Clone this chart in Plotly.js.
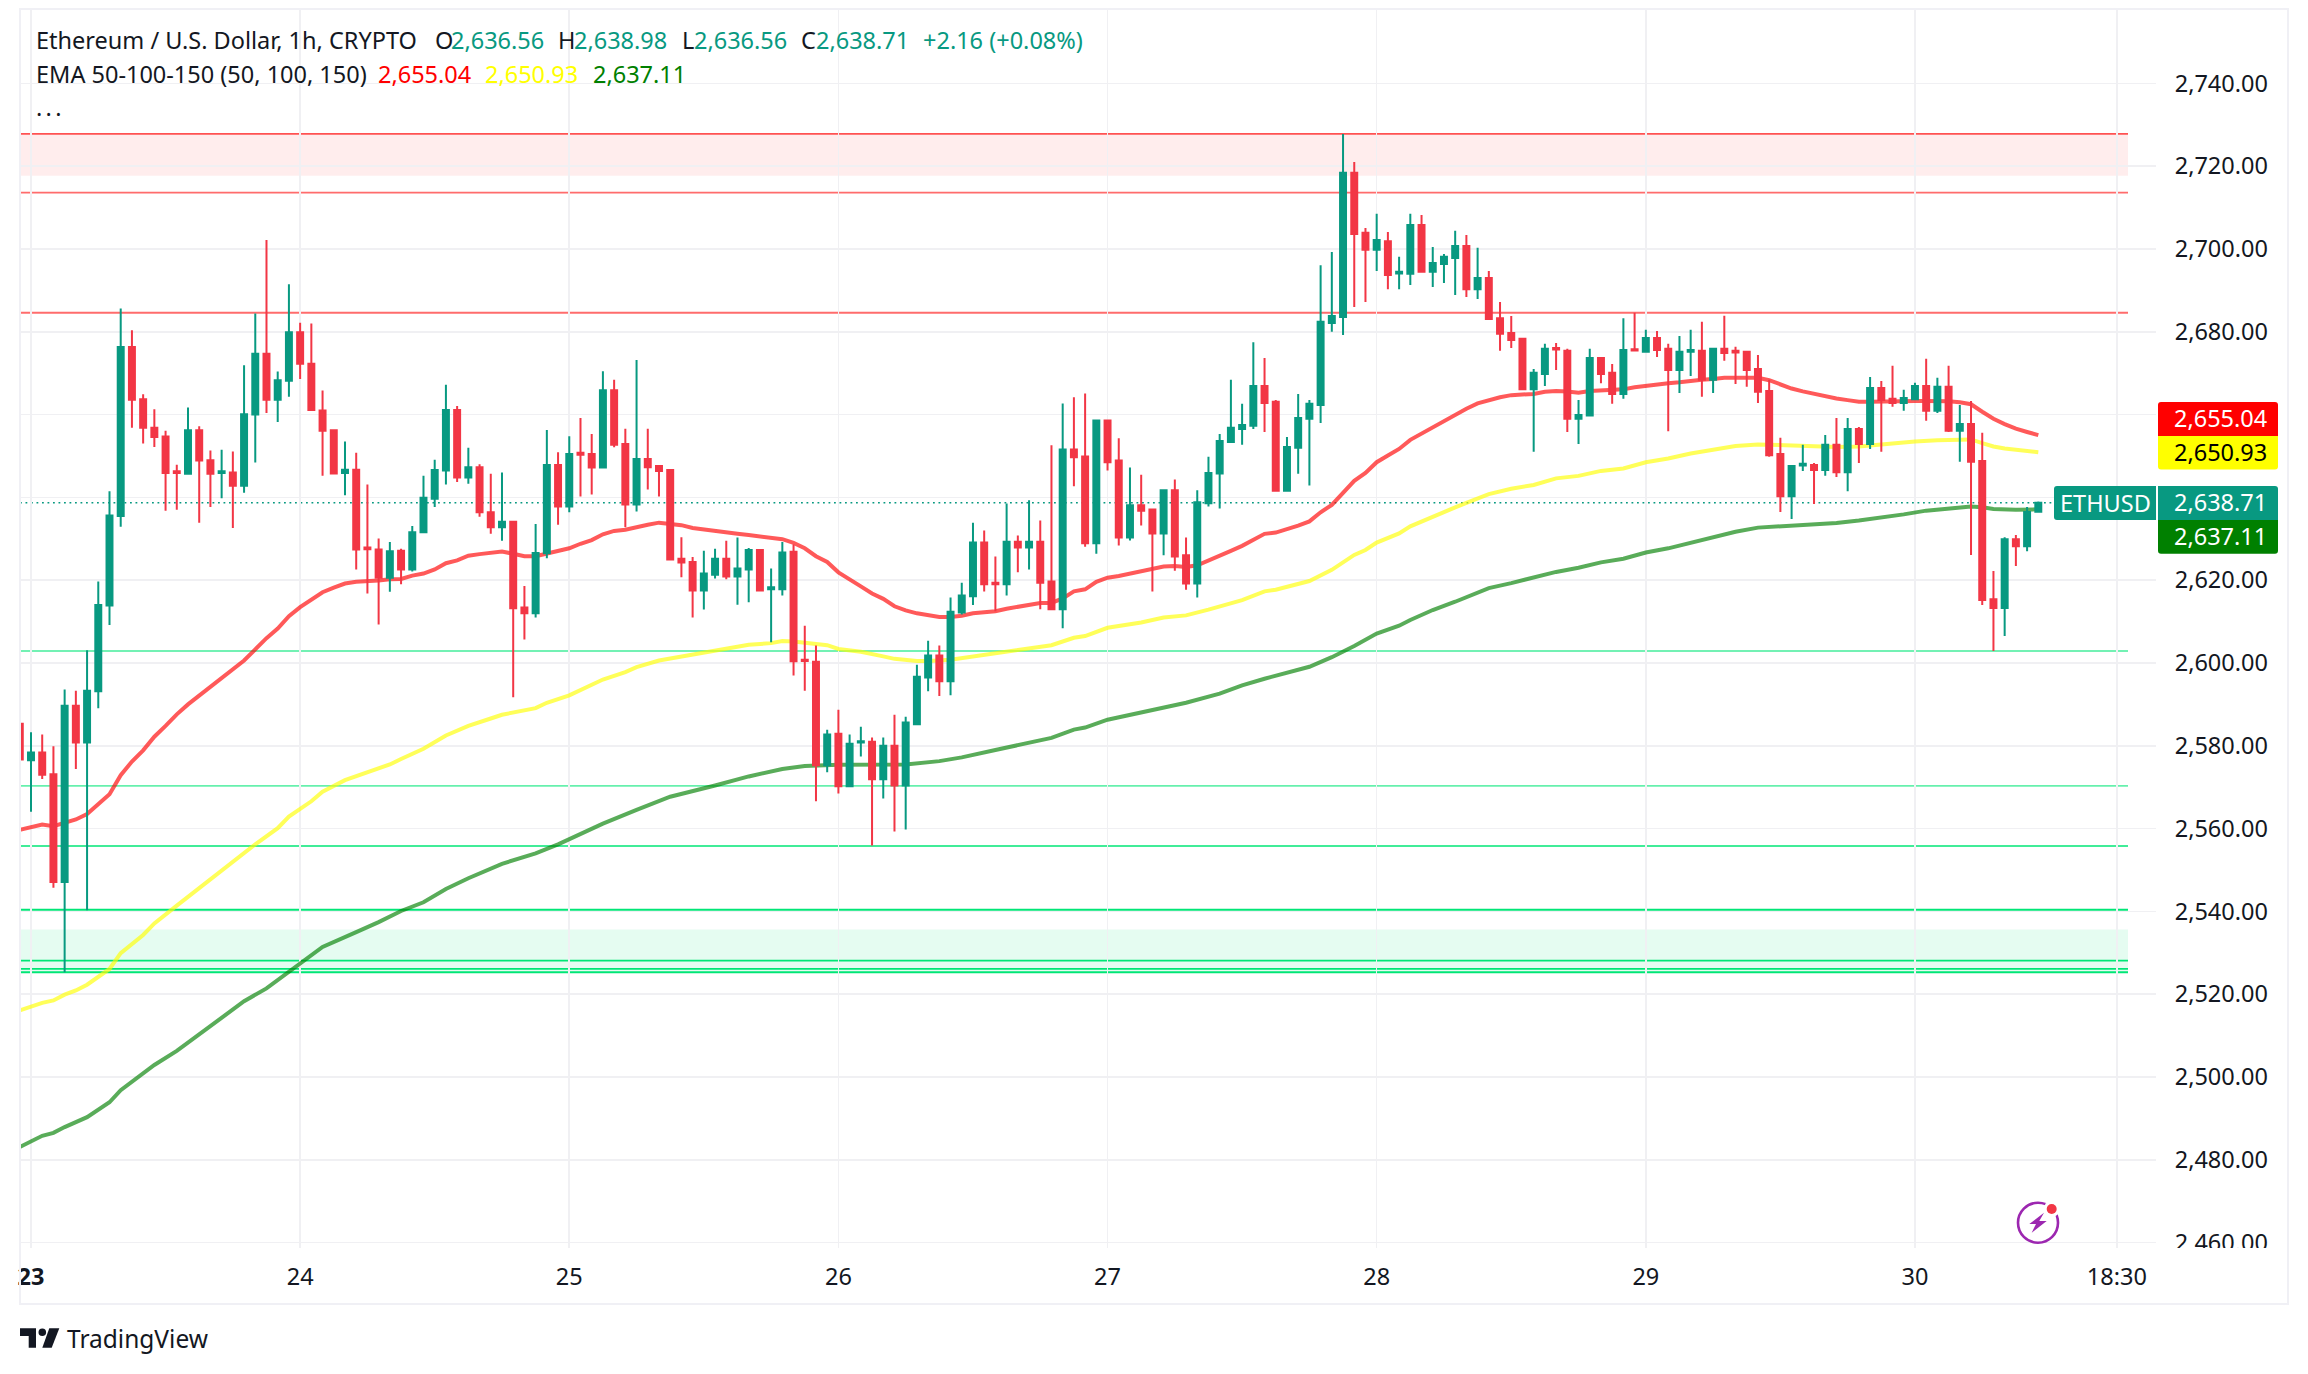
<!DOCTYPE html>
<html>
<head>
<meta charset="utf-8">
<script src="https://cdn.plot.ly/plotly-3.0.1.min.js"></script>
<style>html,body{margin:0;padding:0;background:#fff}#chart{width:2308px;height:1374px}</style>
</head>
<body>
<div id="chart"></div>
<script>
// ---------- candles: hourly bars, first value is the half-hidden bar left of the 23rd ----------
const opens = [2585.3,2576.5,2578.4,2573.1,2547.1,2589.7,2580.8,2593.2,2613.9,2635.5,2676.3,2663.7,2656.8,2654.7,2646.3,2645.7,2656.2,2649,2645.9,2646,2642.8,2660,2674.7,2663.6,2668.2,2679.9,2672.3,2661,2656.2,2645.9,2646.7,2627.9,2627.4,2620.6,2627.1,2622.6,2631.6,2639.7,2646.5,2661.1,2644.8,2647.3,2636.4,2632.8,2634.1,2613.4,2612,2626.5,2647.8,2637.8,2650.8,2650.5,2647.2,2665.9,2652.9,2638.3,2649.3,2647.6,2646.6,2625.2,2624.4,2617.5,2621.3,2625.2,2620.9,2622.6,2627.3,2617.8,2617.8,2626.9,2600.8,2600.3,2575.3,2582.9,2570.2,2580.8,2581,2571.9,2580,2570.4,2585.2,2596.5,2601.8,2595.6,2612.2,2616.1,2629.1,2619.4,2619,2629.3,2627.9,2629.3,2619.7,2613,2651.6,2649.9,2628.9,2658.6,2648.9,2630.3,2638.1,2637.1,2631.3,2641.7,2626,2619.2,2638.6,2645.8,2653.4,2656.5,2657.3,2666.9,2663.1,2641.6,2652,2659,2662.3,2682.1,2683.6,2718.4,2703.9,2699.8,2701.9,2694.1,2694,2705.8,2694.5,2696.4,2697.8,2700.7,2690.3,2693,2683.3,2679.7,2678.3,2666.1,2669.8,2676.1,2675.4,2659,2659.8,2673.7,2670.1,2665,2675.8,2675.2,2678.5,2675.9,2670.8,2675.2,2675.4,2668.4,2675.9,2675.4,2675.2,2671,2665.7,2650.5,2640.3,2647.7,2647.8,2646.6,2652.7,2646.1,2656.5,2652.9,2666.4,2663.8,2662.8,2663.7,2666.9,2660.9,2666.7,2656.1,2657.7,2648.8,2615.4,2613.3,2629.9,2628.2,2636.56];
const highs = [2585.9,2583.3,2582.7,2579.9,2593.6,2593.3,2603.1,2619.7,2641.5,2685.6,2680.4,2664.9,2661.3,2656.1,2647.9,2661.7,2657.2,2651.3,2651.5,2651.1,2671.9,2684.4,2702.2,2670.4,2691.5,2682.2,2682,2665.8,2656.2,2653.5,2650.8,2643.1,2630.1,2629.2,2627.6,2633.1,2645.2,2649.1,2667.2,2662.1,2652,2648,2645.7,2646,2634.1,2618.6,2633.6,2656.3,2650.9,2654.8,2659.2,2655.3,2670.5,2668.4,2656.6,2673.2,2656.6,2647.6,2646.6,2630.4,2625.6,2627.1,2627.6,2629.5,2630.3,2627.8,2627.3,2622.8,2629.2,2628.6,2609,2604.2,2583.9,2588.7,2582.7,2584.6,2582,2582,2587.5,2587,2599.6,2605.4,2604.2,2615.8,2619.4,2633.9,2632,2625.7,2638.5,2630.8,2639.3,2634.4,2652.6,2662.7,2664.2,2665.1,2658.6,2658.8,2654.3,2647.2,2645.5,2637.3,2641.9,2644.3,2630.3,2641.7,2649.8,2655.3,2668.4,2662.6,2677.5,2673.7,2663.5,2654.6,2665,2663.5,2696.1,2699.3,2727.8,2721,2705.1,2708.5,2704.1,2698.1,2708.5,2708.2,2700.5,2698.8,2704.4,2703.4,2700.3,2694.7,2687.2,2683.8,2678.5,2671,2677.1,2677.3,2675.9,2663.5,2675.9,2673.9,2672.2,2683.3,2684.6,2680.5,2680.2,2677.1,2679,2680.5,2682.4,2675.9,2683.9,2676.4,2675.2,2674.4,2668.4,2654.4,2647.6,2652.7,2648.3,2655.1,2659.2,2659.2,2657,2669.1,2668.1,2671.8,2666,2667.7,2673.5,2668.9,2671.8,2662.3,2663.3,2655.6,2622.2,2630.4,2630.9,2637.7,2638.98];
const lows = [2573.4,2564.1,2572,2545.7,2525.3,2574.4,2540.3,2589.1,2609.2,2632.9,2656.8,2653,2652.2,2636.8,2637,2645.7,2633.9,2637.7,2639.8,2632.6,2641.1,2648.4,2660.4,2658.2,2664.3,2668.6,2661.1,2645.2,2645.7,2640.5,2622.6,2616.8,2609.3,2617.2,2619,2622.1,2631.6,2637.7,2643.1,2643.7,2643.3,2635.3,2631.2,2629.5,2591.7,2605.7,2611,2625.3,2633.4,2636.4,2640.2,2640.7,2647.2,2652.1,2632.8,2636.6,2641.9,2640.2,2625,2620.7,2611,2612.9,2620.4,2620.2,2614.1,2614.7,2617.5,2605,2616.3,2597,2593.3,2566.6,2573.6,2568.5,2570.2,2577.4,2555.9,2567.3,2559.3,2559.8,2585.2,2593.2,2592,2592.2,2611.7,2614,2617.3,2612.5,2616.3,2621.9,2622.6,2613,2613,2608.4,2642.7,2628.1,2626.4,2646.5,2628.4,2629.6,2633.2,2617.3,2626,2622.3,2617.7,2615.8,2637.8,2637.3,2653.2,2652.7,2656.5,2655.8,2641.6,2641.6,2645.7,2642.9,2658,2680,2679.2,2686,2687.2,2694.7,2690.3,2690.3,2691.3,2694.5,2690.8,2691.8,2688.9,2688.4,2687.9,2683.1,2675.4,2676.1,2666.1,2651,2666.9,2670.8,2655.8,2652.9,2659.8,2667.6,2662.6,2663.8,2675.5,2675.2,2673.9,2656,2665.2,2669.3,2664.3,2665.2,2673,2667.4,2666.7,2662.8,2649.8,2636.5,2634.8,2646.4,2638.4,2645.2,2644.9,2641.5,2648.3,2651.7,2651,2661.9,2660.9,2663.5,2658.5,2660.4,2655.8,2648.6,2626.1,2614,2602.9,2606.5,2623.4,2627,2636.56];
const closes = [2576.7,2578.4,2573,2547.1,2589.7,2580.8,2593.3,2614,2635.6,2676.3,2663.6,2656.8,2654.6,2645.9,2645.9,2656.2,2648.9,2645.7,2646.3,2642.8,2660.1,2674.7,2663.6,2668.3,2679.9,2672.3,2661.1,2656.1,2645.8,2646.7,2627.4,2627.5,2620.6,2627,2622.6,2631.6,2639.9,2646.6,2661.1,2644.8,2647.3,2636.4,2632.8,2634.1,2613.2,2612,2626.6,2647.8,2637.8,2650.5,2650.3,2647.2,2665.9,2652.7,2638.3,2649.3,2647.3,2646.4,2625,2624.3,2617.5,2621.6,2625.2,2620.9,2622.8,2627.3,2617.5,2618.3,2626.7,2600.4,2600.5,2575.3,2582.7,2570.2,2580.5,2581.1,2571.9,2580,2570.4,2585.6,2596.7,2601.8,2595.6,2612.4,2616.3,2629.1,2619,2619,2629.3,2627.9,2629.3,2619.4,2613,2651.6,2649.7,2628.9,2658.6,2648.5,2630.3,2638.1,2636.8,2631.3,2641.7,2625.7,2619.2,2638.8,2645.9,2653.6,2656.8,2657.5,2666.9,2662.8,2641.6,2652.2,2659.2,2662.6,2682.4,2683.8,2718.4,2703.6,2699.8,2702.2,2693.7,2694.5,2705.8,2694.5,2696.6,2698.1,2700.7,2690.3,2693,2683.1,2679.5,2678,2666.1,2670.1,2675.9,2675.7,2659,2659.9,2673.7,2669.8,2665,2675.6,2675.5,2678.5,2675.6,2670.8,2675.2,2675.6,2668.4,2675.9,2674.9,2675,2670.8,2665.5,2650.2,2640.3,2647.6,2648.1,2646.6,2652.7,2646.1,2656.5,2652.9,2666.4,2663.5,2662.8,2664,2666.9,2660.9,2666.7,2656.1,2657.7,2648.6,2615.2,2613.3,2629.9,2628.2,2636.5,2638.71];
const barIndex = opens.map((_, k) => k - 1);

// ---------- EMA 50 / 100 / 150 ----------
const ema50X = [-1,1,2,3,4,5,6,7,8,9,10,11,12,13,14,15,16,17,18,19,20,21,22,23,24,25,26,27,28,29,30,31,32,33,34,35,36,37,38,39,40,41,42,43,44,45,46,47,48,49,50,51,52,53,54,55,56,57,58,59,60,61,62,63,64,65,66,67,68,69,70,71,72,73,74,75,76,77,78,79,80,81,82,83,84,85,86,87,88,89,90,91,92,93,94,95,96,97,98,99,100,101,102,103,104,105,106,107,108,109,110,111,112,113,114,115,116,117,118,119,120,121,122,123,124,125,126,127,128,129,130,131,132,133,134,135,136,137,138,139,140,141,142,143,144,145,146,147,148,149,150,151,152,153,154,155,156,157,158,159,160,161,162,163,164,165,166,167,168,169,170,171,172,173,174,175,176,177,178,179];
const ema50Y = [2559.7,2561,2560.6,2561.4,2562.2,2563.5,2565.8,2568.3,2572.9,2576.2,2578.9,2582.2,2584.8,2587.6,2590,2592.1,2594.5,2596.4,2598.4,2600.6,2603.3,2606,2608.3,2611.3,2613.5,2615.2,2617.1,2618.2,2619.2,2619.6,2619.7,2619.9,2620.2,2620.3,2621.1,2621.6,2622.6,2624.1,2624.8,2625.9,2626.3,2626.6,2626.9,2626.4,2625.8,2625.8,2626.5,2627,2627.7,2628.8,2629.7,2631.1,2631.9,2632.2,2632.9,2633.4,2633.9,2633.5,2633.3,2632.6,2632.2,2632,2631.5,2631.2,2630.9,2630.5,2630.1,2629.9,2629,2627.7,2625.8,2624.4,2621.9,2620.3,2618.5,2616.8,2615.5,2613.7,2612.7,2612,2611.5,2611.1,2611.1,2611.4,2612,2612.3,2612.5,2613.1,2613.6,2614.2,2614.5,2614.5,2615.6,2617.3,2617.8,2619.6,2620.6,2621,2621.6,2622.2,2622.6,2623.3,2623.4,2623.2,2623.6,2624.7,2625.9,2627.1,2628.3,2629.7,2631.2,2631.5,2632.3,2633.2,2634.2,2636.4,2638.2,2641.2,2644,2645.9,2648.5,2650.1,2651.7,2653.9,2655.4,2657.1,2658.6,2660.1,2661.4,2662.7,2663.5,2664.2,2664.7,2664.8,2665,2665.5,2665.7,2665.6,2665.3,2665.7,2665.8,2665.8,2666.1,2666.6,2667,2667.3,2667.6,2667.8,2668.2,2668.4,2668.6,2668.9,2668.9,2669,2668.9,2668.3,2667.2,2666.3,2665.6,2665,2664.5,2663.9,2663.5,2663.1,2663.1,2663.2,2663.2,2663.3,2663.3,2663.3,2663.3,2663.2,2663,2662.5,2660.7,2659,2657.7,2656.6,2655.8,2655.04];
const ema100X = [-1,1,2,3,4,5,7,8,10,11,13,15,16,18,20,22,23,25,26,28,30,32,33,35,37,39,41,42,45,46,48,50,51,53,54,56,58,60,62,64,66,67,68,70,71,72,74,76,77,79,80,82,84,86,88,90,91,93,94,96,99,101,103,105,106,108,110,111,114,116,118,119,120,122,123,125,127,128,130,132,134,136,138,140,142,144,146,148,150,152,154,155,157,159,161,163,165,167,168,170,172,173,174,175,176,178,179];
const ema100Y = [2516.1,2517.9,2518.5,2519.9,2520.9,2522.3,2526.1,2529.9,2534.3,2537.1,2541.4,2545.6,2547.9,2551.8,2556.2,2560.1,2562.9,2566.6,2568.9,2571.7,2573.7,2575.5,2576.8,2579.3,2582.5,2584.8,2586.6,2587.5,2589.1,2590.4,2592.2,2594.6,2596,2597.8,2599,2600.6,2601.6,2602.5,2603.4,2604.4,2604.8,2605.3,2605.2,2604.7,2604.3,2603.4,2602.7,2601.6,2601,2600.5,2600.5,2600.8,2601.6,2602.3,2603.2,2604.1,2604.3,2606.1,2606.5,2608.5,2609.8,2611,2611.5,2612.9,2613.6,2615.2,2617.3,2617.7,2619.8,2622.5,2626.1,2627.3,2629.1,2631.3,2633,2635.4,2637.6,2638.7,2640.8,2642.1,2643,2644.6,2645.2,2646.4,2647,2648.5,2649.4,2650.6,2651.4,2652.4,2652.8,2652.7,2652.4,2652.2,2652.2,2652.3,2652.8,2653.1,2653.5,2653.8,2654,2654,2653.1,2652.3,2651.8,2651.1,2650.93];
const ema150X = [-1,1,2,3,5,7,8,10,11,13,16,19,21,23,24,26,29,31,33,35,37,39,42,45,47,50,51,54,57,61,64,67,69,72,78,81,83,86,91,93,94,96,101,103,106,108,110,114,116,118,120,122,123,125,127,129,130,132,134,136,138,140,142,144,146,148,150,152,154,157,159,161,163,165,167,169,171,173,174,175,177,179];
const ema150Y = [2483.1,2485.8,2486.5,2487.9,2490.3,2493.9,2496.8,2500.7,2502.9,2506.3,2512.2,2518.3,2521.4,2525.5,2527.5,2531.4,2535,2537.4,2540.1,2542.2,2545.4,2548,2551.5,2554,2556.2,2559.8,2561.2,2564.5,2567.7,2570.4,2572.6,2574.4,2575.1,2575.4,2575.5,2576.3,2577.2,2579,2581.9,2583.9,2584.4,2586.3,2589.4,2590.4,2592.6,2594.6,2596.2,2599.1,2601.4,2604.1,2607.1,2609,2610.4,2612.8,2614.8,2617.1,2618.1,2619.3,2620.6,2622,2623,2624.3,2625.2,2626.7,2627.7,2629.1,2630.3,2631.7,2632.7,2633.1,2633.4,2633.8,2634.4,2635.1,2635.9,2636.8,2637.4,2637.8,2637.6,2637.2,2637,2637.11];

// ---------- levels ----------
const resistanceLines = [2727.8, 2713.6, 2684.6];
const resistanceAlpha = [1, 0.85, 0.85];
const resistanceBand = [2717.7, 2727.8];
const supportLines = [2602.9, 2570.3, 2555.8, 2540.4, 2528.1, 2526.1, 2525.3];
const supportAlpha = [0.55, 0.6, 0.75, 1, 1, 1, 1];
const supportBand = [2525.3, 2535.6];
const lastPrice = 2638.71;

// ---------- axis labels ----------
const priceTicks = [2740,2720,2700,2680,2660,2640,2620,2600,2580,2560,2540,2520,2500,2480,2460];
const priceTickText = ['2,740.00','2,720.00','2,700.00','2,680.00','','','2,620.00','2,600.00','2,580.00','2,560.00','2,540.00','2,520.00','2,500.00','2,480.00','2,460.00'];
const timeTicks = [0,24,48,72,96,120,144,168,186];
const timeTickText = ['<b>23</b>','24','25','26','27','28','29','30','18:30'];

// ---------- page geometry helpers (pixels to paper fractions) ----------
const W = 2308, H = 1374, L = 20, R = 2156, T = 10, B = 1248;
const px = x => (x - L) / (R - L);
const py = y => (B - y) / (B - T);
const xRange = [(L - 31) / 11.214, (R - 31) / 11.214];
const yRange = [2740 - (B - 83.4) / 4.14, 2740 + (83.4 - T) / 4.14];
const xEnd = (2128 - 31) / 11.214, xStart = xRange[0];

const FONT = '"Noto Sans", "Open Sans", sans-serif';
const INK = '#131722', UP = '#089981', DOWN = '#F23645';
const TEXT_SIZE = 23.5;

const shapes = [];
const paperRect = (x0, y0, x1, y1, fill) => shapes.push({type:'rect', xref:'paper', yref:'paper', x0:px(x0), x1:px(x1), y0:py(y1), y1:py(y0), fillcolor:fill, line:{width:0}, layer:'above'});
const round = (x0, y0, x1, y1, r, tl, tr, br, bl) => {
  const f = (x, y) => px(x) + ',' + py(y);
  return 'M' + f(x0 + tl, y0) + ' L' + f(x1 - tr, y0) + ' Q' + f(x1, y0) + ' ' + f(x1, y0 + tr) + ' L' + f(x1, y1 - br) + ' Q' + f(x1, y1) + ' ' + f(x1 - br, y1) + ' L' + f(x0 + bl, y1) + ' Q' + f(x0, y1) + ' ' + f(x0, y1 - bl) + ' L' + f(x0, y0 + tl) + ' Q' + f(x0, y0) + ' ' + f(x0 + tl, y0) + ' Z';
};
const pathShape = (path, fill, line) => shapes.push({type:'path', xref:'paper', yref:'paper', path, fillcolor:fill || 'rgba(0,0,0,0)', line: line || {width:0}, layer:'above'});
const poly = pts => 'M' + pts.map(p => px(p[0]) + ',' + py(p[1])).join(' L') + ' Z';
const circle = (cx, cy, r, fill, line) => shapes.push({type:'circle', xref:'paper', yref:'paper', x0:px(cx - r), x1:px(cx + r), y0:py(cy + r), y1:py(cy - r), fillcolor:fill, line: line || {width:0}, layer:'above'});

// bands and levels sit under the candles
shapes.push({type:'rect', xref:'x', yref:'y', x0:xStart, x1:xEnd, y0:resistanceBand[0], y1:resistanceBand[1], fillcolor:'rgba(255,82,82,0.1)', line:{width:0}, layer:'below'});
shapes.push({type:'rect', xref:'x', yref:'y', x0:xStart, x1:xEnd, y0:supportBand[0], y1:supportBand[1], fillcolor:'rgba(0,230,118,0.1)', line:{width:0}, layer:'below'});
resistanceLines.forEach((v, k) => shapes.push({type:'line', xref:'x', yref:'y', x0:xStart, x1:xEnd, y0:v, y1:v, line:{color:'rgba(255,82,82,' + resistanceAlpha[k] + ')', width:1.8}, layer:'below'}));
supportLines.forEach((v, k) => shapes.push({type:'line', xref:'x', yref:'y', x0:xStart, x1:xEnd, y0:v, y1:v, line:{color:'rgba(0,230,118,' + supportAlpha[k] + ')', width:1.8}, layer:'below'}));
shapes.push({type:'line', xref:'x', yref:'y', x0:xStart, x1:(2052 - 31) / 11.214, y0:lastPrice, y1:lastPrice, line:{color:UP, width:1.6, dash:'1.8px,3.7px'}, layer:'below'});

// frame around the widget
pathShape('M' + px(20) + ',' + py(9) + ' L' + px(2288) + ',' + py(9) + ' L' + px(2288) + ',' + py(1304) + ' L' + px(20) + ',' + py(1304) + ' Z', null, {color:'#F0F0F5', width:2});

// clip the lowest price label at the pane's edge, as the reference does
paperRect(2160, 1248, 2284, 1262, '#ffffff');

// price badges on the scale
pathShape(round(2158, 402, 2278, 436, 3, 3, 3, 0, 0), '#FF0000');
pathShape(round(2158, 436, 2278, 469.5, 3, 0, 0, 3, 3), '#FFFF00');
pathShape(round(2054, 486, 2156, 520, 3, 3, 0, 0, 3), UP);
pathShape(round(2158, 486, 2278, 520, 3, 0, 3, 0, 0), UP);
pathShape(round(2158, 520, 2278, 553.7, 3, 0, 0, 3, 3), '#008000');

// lightning badge
circle(2038, 1222.7, 20, 'rgba(0,0,0,0)', {color:'#9C27B0', width:2.6});
circle(2051.7, 1209, 8, '#ffffff');
circle(2051.7, 1209, 5, DOWN);
pathShape(poly([[2044,1212.7],[2029.3,1224],[2036,1224],[2031.7,1232.7],[2046.7,1221],[2039.3,1221]]), '#9C27B0');

// TradingView mark
pathShape(poly([[20,1328.3],[36,1328.3],[36,1347.7],[28.7,1347.7],[28.7,1336],[20,1336]]), INK);
circle(42.3, 1332.3, 3.8, INK);
pathShape(poly([[49.3,1328.3],[59.3,1328.3],[51.7,1347.7],[42.3,1347.7]]), INK);

// ---------- texts ----------
const annotations = [];
const text = (x, y, s, color, size, anchor) => annotations.push({xref:'paper', yref:'paper', x:px(x), y:py(y), text:s, showarrow:false, xanchor:anchor || 'left', yanchor:'middle', borderpad:0, font:{family:FONT, size:size || TEXT_SIZE, color}});

const legendRow1 = ['Ethereum / U.S. Dollar, 1h, CRYPTO', 'O', '2,636.56', 'H', '2,638.98', 'L', '2,636.56', 'C', '2,638.71', '+2.16 (+0.08%)'];
const legendRow1At = [35, 434, 450, 557, 573, 681, 693, 800, 815, 922];
legendRow1.forEach((s, k) => text(legendRow1At[k], 40, s, (k === 0 || (k % 2 === 1 && k < 9)) ? INK : UP));
const legendRow2 = ['EMA 50-100-150 (50, 100, 150)', '2,655.04', '2,650.93', '2,637.11'];
const legendRow2At = [35, 377, 484, 592];
const legendRow2Color = [INK, '#FF0000', '#FFFF00', '#008000'];
legendRow2.forEach((s, k) => text(legendRow2At[k], 74, s, legendRow2Color[k]));
text(35, 107, '<span style="letter-spacing:3.3px">...</span>', INK);

const badgeLabels = ['2,655.04', '2,650.93', '2,638.71', '2,637.11'];
const badgeRow = [418, 451.5, 502, 535.5];
const badgeColor = ['#ffffff', '#000000', '#ffffff', '#ffffff'];
badgeLabels.forEach((s, k) => text(2220.5, badgeRow[k], s, badgeColor[k], TEXT_SIZE, 'center'));
text(2105, 503, 'ETHUSD', '#ffffff', TEXT_SIZE, 'center');
text(66, 1338, 'TradingView', INK, 24.5);

// ---------- traces ----------
const traces = [
  {type:'scatter', mode:'lines', name:'EMA 50', x:ema50X, y:ema50Y, line:{color:'rgba(255,0,0,0.65)', width:4}, xaxis:'x', yaxis:'y', hoverinfo:'skip'},
  {type:'scatter', mode:'lines', name:'EMA 100', x:ema100X, y:ema100Y, line:{color:'rgba(255,255,0,0.65)', width:4}, xaxis:'x', yaxis:'y', hoverinfo:'skip'},
  {type:'scatter', mode:'lines', name:'EMA 150', x:ema150X, y:ema150Y, line:{color:'rgba(0,128,0,0.65)', width:4}, xaxis:'x', yaxis:'y', hoverinfo:'skip'},
  {type:'candlestick', name:'ETHUSD', x:barIndex, open:opens, high:highs, low:lows, close:closes, xaxis:'x2', yaxis:'y2', whiskerwidth:0,
   increasing:{line:{color:UP, width:2}, fillcolor:UP}, decreasing:{line:{color:DOWN, width:2}, fillcolor:DOWN}, hoverinfo:'skip'}
];

const layout = {
  width:W, height:H, showlegend:false, hovermode:false, dragmode:false,
  paper_bgcolor:'#ffffff', plot_bgcolor:'#ffffff',
  margin:{l:L, r:W - R, t:T, b:H - B, pad:0},
  boxgap:0.24, boxgroupgap:0.3, boxmode:'overlay',
  font:{family:FONT, color:INK, size:TEXT_SIZE},
  xaxis:{range:xRange, type:'linear', tickmode:'array', tickvals:timeTicks, ticktext:timeTickText, showgrid:true, gridcolor:'#F0F0F3', gridwidth:1.6, zeroline:false, showline:false, ticks:'outside', ticklen:8, tickcolor:'rgba(0,0,0,0)', tickfont:{family:FONT, size:TEXT_SIZE, color:INK}},
  yaxis:{range:yRange, type:'linear', side:'right', tickmode:'array', tickvals:priceTicks, ticktext:priceTickText, showgrid:true, gridcolor:'#F0F0F3', gridwidth:1.6, zeroline:false, showline:false, ticks:'outside', ticklen:13, tickcolor:'rgba(0,0,0,0)', tickfont:{family:FONT, size:TEXT_SIZE, color:INK}},
  xaxis2:{range:xRange, type:'linear', overlaying:'x', visible:false, rangeslider:{visible:false}},
  yaxis2:{range:yRange, type:'linear', overlaying:'y', side:'right', visible:false},
  shapes, annotations
};

Plotly.newPlot('chart', traces, layout, {displayModeBar:false, staticPlot:true});
</script>
</body>
</html>
